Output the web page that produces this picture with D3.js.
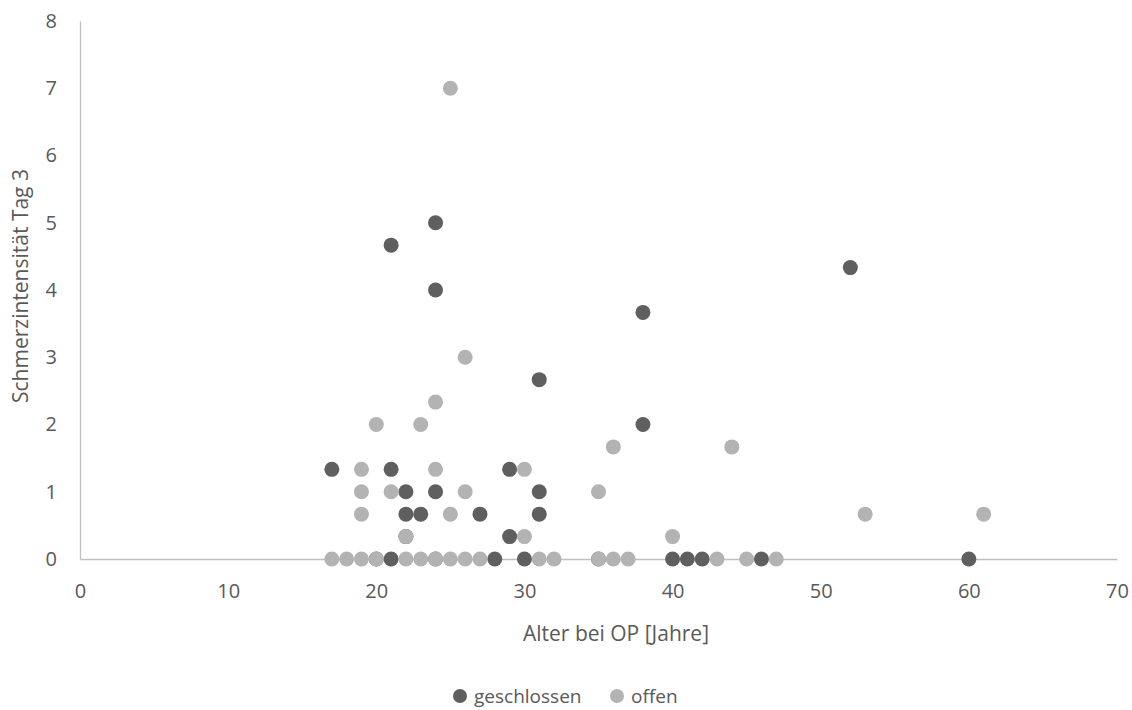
<!DOCTYPE html>
<html>
<head>
<meta charset="utf-8">
<script src="https://cdn.jsdelivr.net/npm/d3@7"></script>
<style>
  body { margin: 0; background: #fff; }
  text { font-family: "Open Sans", Lato, sans-serif; fill: #595959; }
</style>
</head>
<body>
<svg id="chart" width="1132" height="710"></svg>
<script>
// Alter bei OP (x) / Schmerzintensität Tag 3 (y)
const closedAge  = [17, 20, 21, 21, 21, 22, 22, 22, 23, 24, 24, 24, 24, 27, 28, 29, 29, 30, 31, 31, 31, 35, 38, 38, 40, 41, 42, 46, 52, 60];
const closedPain = [1.333, 0, 1.333, 4.667, 0, 1, 0.667, 0.333, 0.667, 5, 4, 1, 0, 0.667, 0, 1.333, 0.333, 0, 2.667, 1, 0.667, 0, 3.667, 2, 0, 0, 0, 0, 4.333, 0];

const openAge  = [17, 18, 19, 19, 19, 19, 20, 20, 21, 22, 22, 23, 23, 24, 24, 24, 25, 25, 25, 26, 26, 26, 27, 30, 30, 31, 32, 35, 35, 36, 36, 37, 40, 43, 44, 45, 47, 53, 61];
const openPain = [0, 0, 1.333, 1, 0.667, 0, 2, 0, 1, 0.333, 0, 2, 0, 2.333, 1.333, 0, 7, 0.667, 0, 3, 1, 0, 0, 1.333, 0.333, 0, 0, 1, 0, 1.667, 0, 0, 0.333, 0, 1.667, 0, 0, 0.667, 0.667];

const seriesNames = ["geschlossen", "offen"];
const xTicks = [0, 10, 20, 30, 40, 50, 60, 70];
const yTicks = [0, 1, 2, 3, 4, 5, 6, 7, 8];

const colors = {geschlossen: "#5f5f5f", offen: "#b3b3b3"};

const svg = d3.select("#chart");
const margin = {top: 21, right: 15, bottom: 151, left: 80};
const width = +svg.attr("width") - margin.left - margin.right;
const height = +svg.attr("height") - margin.top - margin.bottom;

const x = d3.scaleLinear().domain([0, 70]).range([0, width]);
const y = d3.scaleLinear().domain([0, 8]).range([height, 0]);

const g = svg.append("g").attr("transform", "translate(" + margin.left + "," + margin.top + ")");

// axes
const xAxis = g.append("g")
	.attr("transform", "translate(0," + height + ")")
	.call(d3.axisBottom(x).tickValues(xTicks).tickSize(0).tickPadding(25));
xAxis.select(".domain").attr("stroke", "#bfbfbf").attr("stroke-width", 1.3);
xAxis.selectAll("text").style("font-size", "20px").style("fill", "#595959");

const yAxis = g.append("g")
	.call(d3.axisLeft(y).tickValues(yTicks).tickSize(0).tickPadding(23));
yAxis.select(".domain").attr("stroke", "#bfbfbf").attr("stroke-width", 1.3);
yAxis.selectAll("text").style("font-size", "20px").style("fill", "#595959");

// points: geschlossen first, offen on top
const closed = closedAge.map((a, i) => ({age: a, pain: closedPain[i]}));
const open = openAge.map((a, i) => ({age: a, pain: openPain[i]}));

g.append("g").selectAll("circle").data(closed).enter()
	.append("circle")
	.attr("cx", d => x(d.age))
	.attr("cy", d => y(d.pain))
	.attr("r", 7.5)
	.style("fill", colors.geschlossen);

g.append("g").selectAll("circle").data(open).enter()
	.append("circle")
	.attr("cx", d => x(d.age))
	.attr("cy", d => y(d.pain))
	.attr("r", 7.5)
	.style("fill", colors.offen);

// axis titles
svg.append("text")
	.attr("x", 616)
	.attr("y", 641)
	.style("text-anchor", "middle")
	.style("font-size", "21px")
	.text("Alter bei OP [Jahre]");

svg.append("text")
	.attr("transform", "translate(28,286) rotate(-90)")
	.style("text-anchor", "middle")
	.style("font-size", "21px")
	.text("Schmerzintensität Tag 3");

// legend
const legend = svg.append("g");
const legendX = [460, 617];
seriesNames.forEach((name, i) => {
	legend.append("circle")
		.attr("cx", legendX[i])
		.attr("cy", 696)
		.attr("r", 7)
		.style("fill", colors[name]);
	legend.append("text")
		.attr("x", legendX[i] + 14)
		.attr("y", 703)
		.style("font-size", "19px")
		.text(name);
});
</script>
</body>
</html>
